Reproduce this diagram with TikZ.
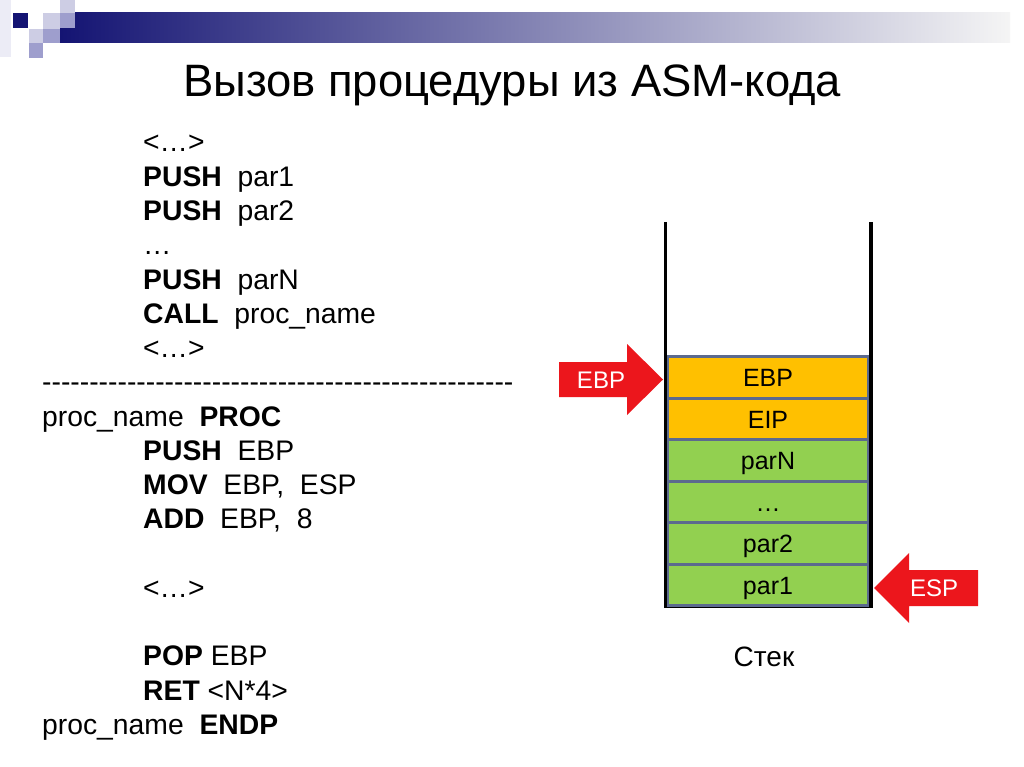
\documentclass[tikz,border=0pt]{standalone}
\usepackage{fontspec}
\setmainfont{Liberation Sans}
\definecolor{navy}{RGB}{20,20,115}
\definecolor{lav1}{RGB}{205,205,228}
\definecolor{lav2}{RGB}{158,158,205}
\definecolor{lav0}{RGB}{236,236,246}
\definecolor{cellorange}{RGB}{255,192,0}
\definecolor{cellgreen}{RGB}{146,208,80}
\definecolor{cellborder}{RGB}{92,106,142}
\definecolor{arrowred}{RGB}{236,22,28}
\tikzset{
  codeline/.style={anchor=base west, inner sep=0pt, font=\fontsize{28.3}{34}\selectfont},
  cell/.style={draw=cellborder, line width=2.6pt, minimum width=200pt, minimum height=41.5pt,
    inner sep=0pt, text height=18pt, text depth=0pt, font=\fontsize{25}{30}\selectfont},
  arrowlabel/.style={text=white, inner sep=0pt, text height=17pt, text depth=0pt, font=\fontsize{24}{28}\selectfont},
  wall/.style={line width=3.5pt, black}
}
\begin{document}
\begin{tikzpicture}[x=1pt,y=-1pt]
\useasboundingbox (0,0) rectangle (1024,767);
\fill[white] (0,0) rectangle (1024,767);
% header decoration
\shade[left color=navy, right color=white!96!black] (60,13) rectangle (1010,43);
\fill[lav0] (0,0) rectangle (11,57);
\fill[navy] (13,13) rectangle (28,28);
\fill[lav1] (43,13) rectangle (60,29);
\fill[lav1] (60,0) rectangle (75,13);
\fill[lav2] (60,13) rectangle (75,28);
\fill[lav1] (29,29) rectangle (43,43);
\fill[lav2] (43,29) rectangle (60,43);
\fill[lav2] (29,43) rectangle (43,58);
% title
\node[anchor=base west, inner sep=0pt, font=\fontsize{45.4}{50}\selectfont] (title) at (183,97) {Вызов процедуры из ASM-кода};
% code
\node[codeline] (l0) at (143,152) {<…>};
\node[codeline] (l1) at (143,186.25) {\textbf{PUSH}\ \ par1};
\node[codeline] (l2) at (143,220.5) {\textbf{PUSH}\ \ par2};
\node[codeline] (l3) at (143,254.75) {…};
\node[codeline] (l4) at (143,289) {\textbf{PUSH}\ \ parN};
\node[codeline] (l5) at (143,323.25) {\textbf{CALL}\ \ proc\_name};
\node[codeline] (l6) at (143,357.5) {<…>};
\node[codeline] (l7) at (42,391.75) {-{}-{}-{}-{}-{}-{}-{}-{}-{}-{}-{}-{}-{}-{}-{}-{}-{}-{}-{}-{}-{}-{}-{}-{}-{}-{}-{}-{}-{}-{}-{}-{}-{}-{}-{}-{}-{}-{}-{}-{}-{}-{}-{}-{}-{}-{}-{}-{}-{}-{}};
\node[codeline] (l8) at (42,426) {proc\_name\ \ \textbf{PROC}};
\node[codeline] (l9) at (143,460.25) {\textbf{PUSH}\ \ EBP};
\node[codeline] (l10) at (143,494.5) {\textbf{MOV}\ \ EBP,\ \ ESP};
\node[codeline] (l11) at (143,528.75) {\textbf{ADD}\ \ EBP,\ \ 8};
\node[codeline] (l13) at (143,597.25) {<…>};
\node[codeline] (l15) at (143,665.75) {\textbf{POP} EBP};
\node[codeline] (l16) at (143,700) {\textbf{RET} <N*4>};
\node[codeline] (l17) at (42,734.25) {proc\_name\ \ \textbf{ENDP}};
% stack walls
\draw[wall] (665.5,222) -- (665.5,606) -- (871,606) -- (871,222);
% cells
\node[cell, fill=cellorange] (c1) at (768,377.5) {EBP};
\node[cell, fill=cellorange] (c2) at (768,419) {EIP};
\node[cell, fill=cellgreen] (c3) at (768,460.5) {parN};
\node[cell, fill=cellgreen] (c4) at (768,502) {…};
\node[cell, fill=cellgreen] (c5) at (768,543.5) {par2};
\node[cell, fill=cellgreen] (c6) at (768,585) {par1};
% arrows
\fill[arrowred] (559,362) -- (627,362) -- (627,344) -- (663,379.5) -- (627,415) -- (627,397) -- (559,397) -- cycle;
\node[arrowlabel] (ebp) at (601,379.5) {EBP};
\fill[arrowred] (978,570) -- (909,570) -- (909,553) -- (874,588) -- (909,623) -- (909,606) -- (978,606) -- cycle;
\node[arrowlabel] (esp) at (934,588) {ESP};
% caption
\node[anchor=base, inner sep=0pt, font=\fontsize{28}{32}\selectfont] (stek) at (764,666) {Стек};
\end{tikzpicture}
\end{document}
